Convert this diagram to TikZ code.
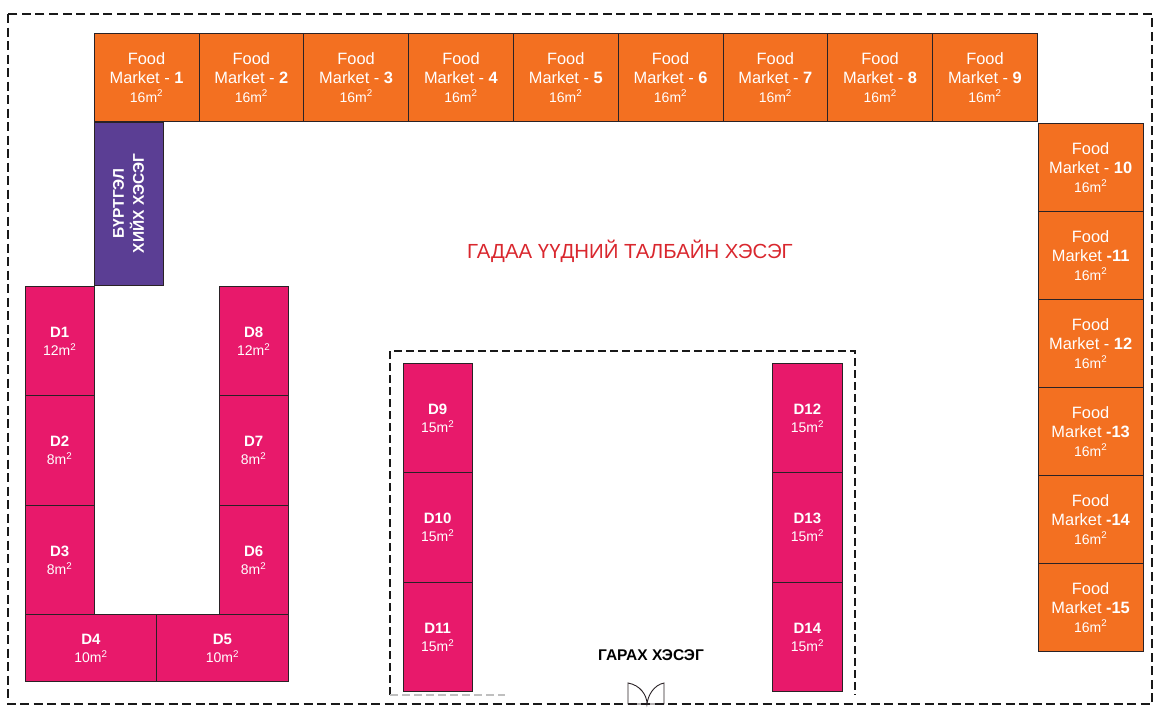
\documentclass[tikz,border=0pt]{standalone}
\usepackage{fontspec}
\setmainfont{Liberation Sans}
\usetikzlibrary{matrix}
\definecolor{foodorange}{HTML}{F37021}
\definecolor{stallpink}{HTML}{E8196B}
\definecolor{deskpurple}{HTML}{5B3E94}
\definecolor{gatered}{HTML}{D9272E}
\definecolor{edgedark}{HTML}{2A2226}
\newcommand{\foodcell}[1]{\raisebox{-2pt}[\height][\depth]{\begin{tabular}{@{}c@{}}Food\\Market #1\\[-1pt]{\fontsize{14}{16}\selectfont 16m\textsuperscript{2}}\end{tabular}}}
\newcommand{\stallcell}[2]{\raisebox{-2pt}[\height][\depth]{\begin{tabular}{@{}c@{}}{\fontsize{15}{18}\selectfont\bfseries #1}\\{\fontsize{14}{16}\selectfont #2m\textsuperscript{2}}\end{tabular}}}
\tikzset{
	foodbox/.style={draw=edgedark, line width=0.9pt, fill=foodorange, text=white, inner sep=0pt, outer sep=0pt, font=\fontsize{16.4}{19.5}\selectfont},
	stallbox/.style={draw=edgedark, line width=0.9pt, fill=stallpink, text=white, inner sep=0pt, outer sep=0pt, font=\fontsize{14}{18}\selectfont},
	zoneline/.style={black!90, line width=2pt, dash pattern=on 9pt off 4.5pt}
}
\begin{document}
\begin{tikzpicture}[x=1pt, y=-1pt]
			\useasboundingbox (0,0) rectangle (1159,715);
			\draw[zoneline] (8,14) rectangle (1152,704);
			\draw[zoneline, line width=1.8pt, dash pattern=on 8pt off 4pt] (390,695) |- (855,351) -- (855,695);
			\draw[black!25, line width=1.2pt, dash pattern=on 8pt off 4pt] (390,695) -- (505,695);
			\matrix (top) [matrix of nodes, anchor=north west, inner sep=0pt, column sep=-0.9pt, nodes={foodbox, minimum width=104.8pt, minimum height=88pt}] at (93.5,32.5)
			{
				\foodcell{- \textbf{1}} & \foodcell{- \textbf{2}} & \foodcell{- \textbf{3}} & \foodcell{- \textbf{4}} & \foodcell{- \textbf{5}} & \foodcell{- \textbf{6}} & \foodcell{- \textbf{7}} & \foodcell{- \textbf{8}} & \foodcell{- \textbf{9}} \\
			};
			\matrix (side) [matrix of nodes, anchor=north west, inner sep=0pt, row sep=-0.9pt, nodes={foodbox, minimum width=105pt, minimum height=88pt}] at (1037.5,122.5)
			{
				\foodcell{- \textbf{10}} \\
				\foodcell{\textbf{-11}} \\
				\foodcell{- \textbf{12}} \\
				\foodcell{\textbf{-13}} \\
				\foodcell{\textbf{-14}} \\
				\foodcell{\textbf{-15}} \\
			};
			\node (desk) [draw=edgedark, line width=0.9pt, fill=deskpurple, text=white, align=center, inner sep=0pt, outer sep=0pt, minimum width=163pt, minimum height=69pt, rotate=90, font=\fontsize{15.5}{20}\selectfont\bfseries] at (128.5,203.5) {БҮРТГЭЛ\\ХИЙХ ХЭСЭГ};
			\matrix (left) [matrix of nodes, anchor=north west, inner sep=0pt, row sep=-0.9pt, nodes={stallbox, minimum width=69pt, minimum height=109.4pt}] at (24.5,285.5)
			{
				\stallcell{D1}{12} \\
				\stallcell{D2}{8} \\
				\stallcell{D3}{8} \\
			};
			\matrix (right) [matrix of nodes, anchor=north west, inner sep=0pt, row sep=-0.9pt, nodes={stallbox, minimum width=69pt, minimum height=109.4pt}] at (218.5,285.5)
			{
				\stallcell{D8}{12} \\
				\stallcell{D7}{8} \\
				\stallcell{D6}{8} \\
			};
			\matrix (base) [matrix of nodes, anchor=north west, inner sep=0pt, column sep=-0.9pt, nodes={stallbox, minimum width=131.5pt, minimum height=66.5pt}] at (24.5,614)
			{
				\stallcell{D4}{10} & \stallcell{D5}{10} \\
			};
			\matrix (hallleft) [matrix of nodes, anchor=north west, inner sep=0pt, row sep=-0.9pt, nodes={stallbox, minimum width=69pt, minimum height=109.4pt}] at (402.5,362.5)
			{
				\stallcell{D9}{15} \\
				\stallcell{D10}{15} \\
				\stallcell{D11}{15} \\
			};
			\matrix (hallright) [matrix of nodes, anchor=north west, inner sep=0pt, row sep=-0.9pt, nodes={stallbox, minimum width=69.5pt, minimum height=109.4pt}] at (772,362.5)
			{
				\stallcell{D12}{15} \\
				\stallcell{D13}{15} \\
				\stallcell{D14}{15} \\
			};
			\node (yard) [text=gatered, font=\fontsize{20.4}{24}\selectfont] at (630,251) {ГАДАА ҮҮДНИЙ ТАЛБАЙН ХЭСЭГ};
			\node (exit) [text=black, font=\fontsize{15.5}{18}\selectfont\bfseries] at (651,655) {ГАРАХ ХЭСЭГ};
			\draw[edgedark, line width=0.9pt] (628,704) -- (628,683) .. controls (640,685) and (647,695) .. (647,704) .. controls (648,695) and (654,685) .. (664,683) -- (664,704) -- cycle;
		\end{tikzpicture}
\end{document}
